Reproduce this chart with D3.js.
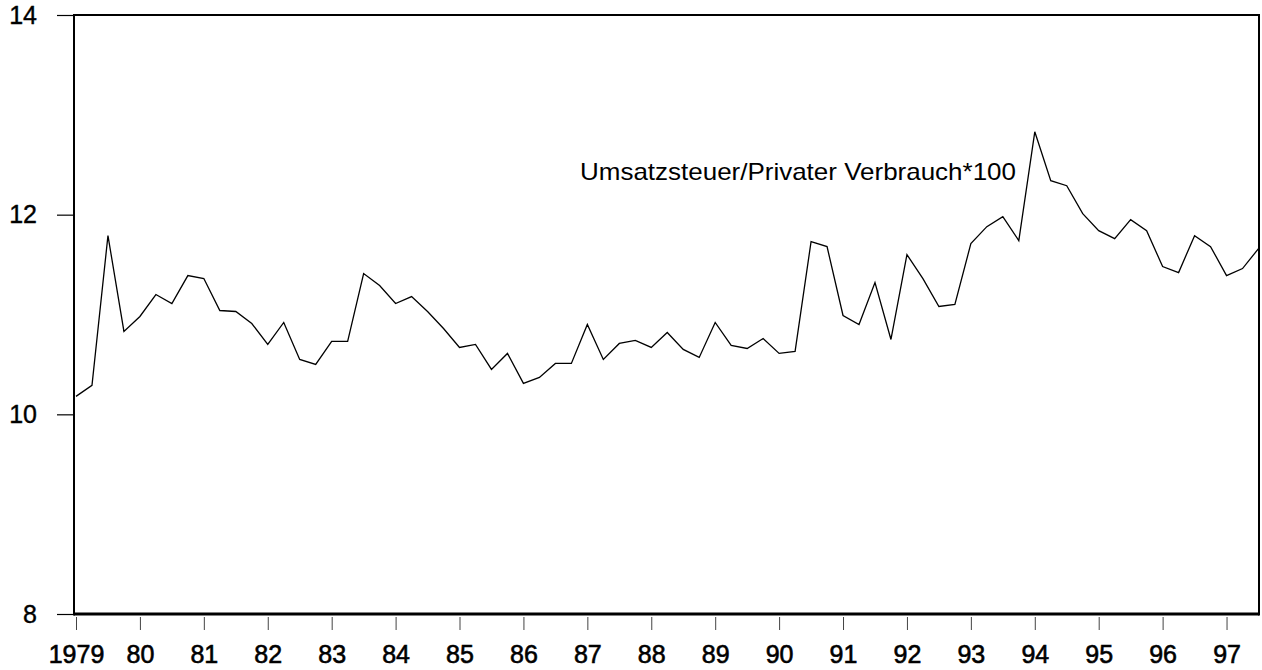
<!DOCTYPE html>
<html>
<head>
<meta charset="utf-8">
<script src="https://cdn.jsdelivr.net/npm/d3@7"></script>
<style>
  html, body { margin: 0; padding: 0; background: #fff; }
  svg { display: block; font-family: "Liberation Sans", Arial, sans-serif; }
</style>
</head>
<body>
<svg id="chart" width="1262" height="670"></svg>
<script>
// Quarterly values, 1979 Q1 .. 1997 Q3
const startYear = 1979;
const values = [
  10.18, 10.29, 11.79, 10.83,   // 1979
  10.98, 11.20, 11.11, 11.39,   // 1980
  11.36, 11.04, 11.03, 10.91,   // 1981
  10.70, 10.92, 10.55, 10.50,   // 1982
  10.73, 10.73, 11.41, 11.29,   // 1983
  11.11, 11.18, 11.03, 10.86,   // 1984
  10.67, 10.70, 10.45, 10.61,   // 1985
  10.31, 10.37, 10.51, 10.51,   // 1986
  10.90, 10.55, 10.71, 10.74,   // 1987
  10.67, 10.82, 10.65, 10.57,   // 1988
  10.92, 10.69, 10.66, 10.76,   // 1989
  10.61, 10.63, 11.73, 11.68,   // 1990
  10.99, 10.90, 11.32, 10.75,   // 1991
  11.60, 11.36, 11.08, 11.10,   // 1992
  11.71, 11.88, 11.98, 11.74,   // 1993
  12.83, 12.34, 12.29, 12.01,   // 1994
  11.84, 11.76, 11.95, 11.84,   // 1995
  11.48, 11.42, 11.79, 11.68,   // 1996
  11.39, 11.46, 11.66           // 1997
];
const xTickYears = d3.range(1979, 1998);
const xTickLabels = ["1979","80","81","82","83","84","85","86","87","88","89","90","91","92","93","94","95","96","97"];
const yTicks = [8, 10, 12, 14];
const seriesLabel = "Umsatzsteuer/Privater Verbrauch*100";

const svg = d3.select("#chart");
const frame = { left: 74, right: 1259, top: 15, bottom: 614 };

const x = d3.scaleLinear().domain([1979, 1997.5]).range([76, 1258.5]);
const y = d3.scaleLinear().domain([8, 14]).range([frame.bottom, frame.top]);

const data = values.map((v, i) => ({ t: startYear + i / 4, v }));

const FONT = "'Liberation Sans', Arial, sans-serif";

// Y axis ticks + labels
const yAxis = d3.axisLeft(y).tickValues(yTicks).tickSize(17).tickPadding(20).tickFormat(d3.format("d"));
const gy = svg.append("g").attr("transform", `translate(${frame.left},0)`).call(yAxis);
gy.select(".domain").remove();
gy.selectAll(".tick line").attr("stroke", "#000").attr("stroke-width", 1.2);
gy.selectAll(".tick text").attr("fill", "#000").attr("font-size", 25).style("font-size", "25px")
  .style("font-family", FONT).attr("stroke", "#000").attr("stroke-width", 0.4);

// X axis ticks + labels
const xAxis = d3.axisBottom(x).tickValues(xTickYears).tickSize(13)
  .tickPadding(15).tickFormat((d, i) => xTickLabels[i]);
const gx = svg.append("g").attr("transform", `translate(0,${frame.bottom + 3})`).call(xAxis);
gx.select(".domain").remove();
gx.selectAll(".tick line").attr("stroke", "#444").attr("stroke-width", 1);
gx.selectAll(".tick text").attr("fill", "#000").attr("font-size", 25).style("font-size", "25px")
  .style("font-family", FONT).attr("stroke", "#000").attr("stroke-width", 0.6);

// Frame
svg.append("line").attr("x1", frame.left).attr("x2", frame.right).attr("y1", frame.top).attr("y2", frame.top)
  .attr("stroke", "#000").attr("stroke-width", 2);
svg.append("line").attr("x1", frame.left).attr("x2", frame.right).attr("y1", frame.bottom).attr("y2", frame.bottom)
  .attr("stroke", "#000").attr("stroke-width", 3);
svg.append("line").attr("x1", frame.left).attr("x2", frame.left).attr("y1", frame.top - 1).attr("y2", frame.bottom + 1.5)
  .attr("stroke", "#000").attr("stroke-width", 2);
svg.append("line").attr("x1", frame.right).attr("x2", frame.right).attr("y1", frame.top - 1).attr("y2", frame.bottom + 1.5)
  .attr("stroke", "#000").attr("stroke-width", 2);

// Series line
const line = d3.line().x(d => x(d.t)).y(d => y(d.v));
svg.append("path").datum(data).attr("d", line)
  .attr("fill", "none").attr("stroke", "#000").attr("stroke-width", 1.3).attr("stroke-linejoin", "miter");

// Series label
const lbl = svg.append("text").attr("x", 580).attr("y", 180)
  .attr("fill", "#000").style("font-size", "24px")
  .style("font-family", FONT)
  .text(seriesLabel);
const w = lbl.node().getComputedTextLength();
if (w > 0) lbl.attr("textLength", 436).attr("lengthAdjust", "spacingAndGlyphs");
</script>
</body>
</html>
